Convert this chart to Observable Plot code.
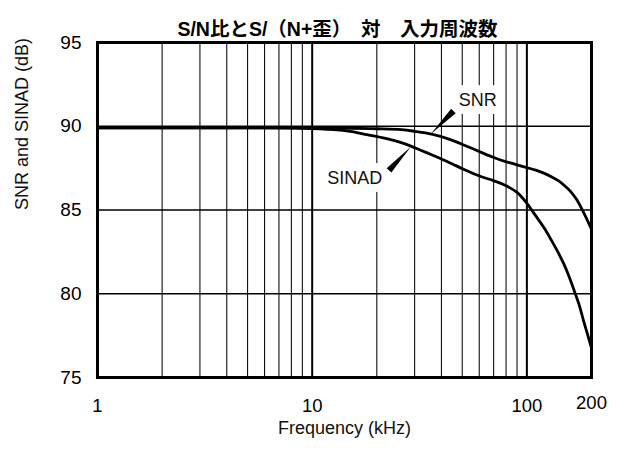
<!DOCTYPE html>
<html><head><meta charset="utf-8">
<script src="https://cdn.jsdelivr.net/npm/d3@7"></script>
<script src="https://cdn.jsdelivr.net/npm/@observablehq/plot@0.6"></script>
<style>html,body{margin:0;padding:0;background:#fff}</style>
</head><body><div id="chart"></div>
<script>
// ---- data ----
const snrFreq = [1, 2, 5, 10, 15, 20, 26, 30, 36, 43, 49, 55, 61, 68, 76, 87, 100, 110, 120, 130, 140, 150, 160, 170, 180, 190, 200];
const snrDb   = [89.9, 89.9, 89.9, 89.9, 89.88, 89.85, 89.8, 89.7, 89.53, 89.25, 88.97, 88.7, 88.45, 88.2, 87.97, 87.75, 87.53, 87.38, 87.2, 86.99, 86.75, 86.45, 86.1, 85.65, 85.08, 84.47, 83.85];
const sinadFreq = [1, 2, 5, 9, 12.6, 15, 18, 22, 26, 29, 32, 36, 40, 45, 51, 61, 70, 80, 90, 100, 110, 120, 130, 140, 149, 158, 167, 176, 184, 192, 200];
const sinadDb   = [89.9, 89.9, 89.9, 89.88, 89.8, 89.7, 89.5, 89.27, 89.02, 88.8, 88.57, 88.3, 88.05, 87.75, 87.42, 87.0, 86.75, 86.45, 86.05, 85.4, 84.65, 83.95, 83.2, 82.45, 81.75, 80.95, 80.1, 79.25, 78.35, 77.55, 76.75];
const minorGrid = [2, 3, 4, 5, 6, 7, 8, 9, 20, 30, 40, 50, 60, 70, 80, 90];
const majorGrid = [10, 100];
const yGrid = [80, 85, 90];
const xTicks = [1, 10, 100];
const xTickEnd = [200];
const yTicks = [75, 80, 85, 90, 95];
const title = "S/N比とS/（N+歪）　対　入力周波数";
const xLabel = "Frequency (kHz)";
const yLabel = "SNR and SINAD (dB)";
const seriesLabels = [
  {text: "SNR", f: 59.1, db: 91.53},
  {text: "SINAD", f: 15.8, db: 86.87}
];
const arrowFrom = [{f: 45.5, db: 90.91}, {f: 22.8, db: 87.37}];
const arrowTo   = [{f: 35.7, db: 89.53}, {f: 28.8, db: 88.78}];

const snr = snrFreq.map((f, i) => ({f, db: snrDb[i]}));
const sinad = sinadFreq.map((f, i) => ({f, db: sinadDb[i]}));

const fontLatin = "'Liberation Sans', Arial, Helvetica, sans-serif";
const fontTitle = "'Liberation Sans', 'Noto Sans CJK JP', sans-serif";

function makeOptions(extra) {
  return {
    width: 626, height: 451,
    marginTop: 42, marginRight: 35, marginBottom: 74, marginLeft: 97,
    x: {type: "log", domain: [1, 200]},
    y: {domain: [75, 95]},
    style: {fontFamily: fontLatin, fontSize: "18px", color: "#000", background: "#fff"},
    marks: [
      Plot.ruleX(minorGrid, {stroke: "#111", strokeWidth: 1.1}),
      Plot.ruleX(majorGrid, {stroke: "#000", strokeWidth: 2}),
      Plot.ruleY(yGrid, {stroke: "#000", strokeWidth: 1.6}),
      Plot.text(seriesLabels, {x: "f", y: "db", text: "text", fontSize: 18, fill: "#111",
        stroke: "white", strokeWidth: 16, paintOrder: "stroke"}),
      Plot.line(snr, {x: "f", y: "db", curve: "catmull-rom", stroke: "#000", strokeWidth: 2.8}),
      Plot.line(sinad, {x: "f", y: "db", curve: "catmull-rom", stroke: "#000", strokeWidth: 2.8}),
      ...extra,
      Plot.frame({stroke: "#000", strokeWidth: 3}),
      Plot.axisX(xTicks, {tickSize: 0, tickPadding: 21, fontSize: 18.5, label: null, tickFormat: d => String(d)}),
      Plot.axisX(xTickEnd, {tickSize: 0, tickPadding: 18, fontSize: 18.5, label: null, tickFormat: d => String(d)}),
      Plot.axisY(yTicks, {tickSize: 0, tickPadding: 16, fontSize: 19, label: null}),
      Plot.text([xLabel], {frameAnchor: "bottom", dy: 56, fontSize: 18, fill: "#111"}),
      Plot.text([yLabel], {frameAnchor: "left", dx: -75.5, rotate: -90, fontSize: 18, fill: "#111"}),
      Plot.text([title], {frameAnchor: "top", dy: -20.5, dx: -7, fontSize: 19.5, fontWeight: "bold",
        fontFamily: fontTitle, fill: "#000"})
    ]
  };
}

// first pass to obtain the scales
const base = Plot.plot(makeOptions([]));
const sx = base.scale("x"), sy = base.scale("y");
const arrowMarks = arrowFrom.map((a, i) => {
  const b = arrowTo[i];
  const x1 = sx.apply(a.f), y1 = sy.apply(a.db);
  const x2 = sx.apply(b.f), y2 = sy.apply(b.db);
  const dx = x2 - x1, dy = y2 - y1;
  const len = Math.hypot(dx, dy);
  const rot = Math.atan2(dx, -dy) * 180 / Math.PI;
  return Plot.vector([b], {x: "f", y: "db", length: len, rotate: rot, anchor: "end",
    shape: "spike", r: 3.2, fill: "#000", stroke: "none"});
});

const chart = Plot.plot(makeOptions(arrowMarks));
document.getElementById("chart").appendChild(chart);
</script>
</body></html>
